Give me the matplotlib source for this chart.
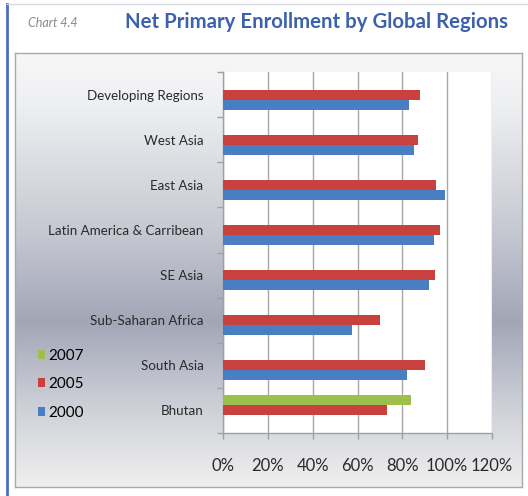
import numpy as np
import matplotlib.pyplot as plt
from matplotlib.colors import LinearSegmentedColormap
from matplotlib.lines import Line2D

# data
regions = ['Developing Regions', 'West Asia', 'East Asia', 'Latin America & Carribean',
           'SE Asia', 'Sub-Saharan Africa', 'South Asia', 'Bhutan']
v2000 = [0.83, 0.85, 0.99, 0.94, 0.92, 0.575, 0.82, None]
v2005 = [0.88, 0.87, 0.95, 0.97, 0.945, 0.70, 0.90, 0.73]
v2007 = [None, None, None, None, None, None, None, 0.84]
xticks = [0, 0.2, 0.4, 0.6, 0.8, 1.0, 1.2]
xticklabels = ['0%', '20%', '40%', '60%', '80%', '100%', '120%']

c2000 = '#4a7ec2'
c2005 = '#c9413f'
c2007 = '#9cc04a'

W, H = 528, 496
fig = plt.figure(figsize=(W / 100, H / 100), dpi=100)
fig.patch.set_facecolor('white')

def fx(px):
    return px / W

def fy(py):
    return 1 - py / H

# page frame
fig.add_artist(Line2D([fx(7), fx(7)], [0, fy(4)], color='#4a6fc0', lw=2))
fig.add_artist(Line2D([fx(7), 1], [fy(4), fy(4)], color='#d8dbe3', lw=1))

fig.text(fx(28), fy(23), 'Chart 4.4', fontsize=9, style='italic', color='#8a8a8a',
         family='Lato', va='center')
fig.text(fx(125), fy(22), 'Net Primary Enrollment by Global Regions', fontsize=14.7,
         fontweight='bold', color='#3d62ad', family='Lato', va='center')

# chart area with gradient background
bg = fig.add_axes([fx(15), fy(487), fx(522) - fx(15), fy(53) - fy(487)], zorder=0)
cmap = LinearSegmentedColormap.from_list('bg', [
    (0.0, '#f7f7f8'), (0.12, '#eeeff1'), (0.4, '#c8cad3'), (0.62, '#a2a6b7'),
    (0.82, '#cfd1d8'), (1.0, '#efefef')])
grad = np.linspace(0, 1, 256).reshape(-1, 1)
bg.imshow(grad, aspect='auto', cmap=cmap, extent=[0, 1, 0, 1], origin='upper')
bg.set_xlim(0, 1)
bg.set_ylim(0, 1)
bg.set_xticks([])
bg.set_yticks([])
for s in bg.spines.values():
    s.set_color('#a9a9a9')
    s.set_linewidth(1)

# plot area
ax = fig.add_axes([fx(223), fy(433), fx(492) - fx(223), fy(72) - fy(433)], zorder=1)
ax.set_facecolor('white')

y = np.arange(len(regions))
bh = 0.222
series = [(v2007, c2007, '2007', -bh), (v2005, c2005, '2005', 0.0), (v2000, c2000, '2000', bh)]
for vals, col, lab, off in series:
    idx = [i for i, v in enumerate(vals) if v is not None]
    ax.barh(y[idx] + off, [vals[i] for i in idx], height=bh, color=col,
            edgecolor='none', label=lab, zorder=3)

ax.set_xlim(0, 1.2)
ax.set_ylim(len(regions) - 0.5, -0.5)
ax.set_xticks(xticks)
ax.set_xticklabels(xticklabels, fontsize=12, color='#2a2a2a', family='Lato')
ax.set_yticks(y)
ax.set_yticklabels(regions, fontsize=9.6, color='#2a2a2a', family='Lato')
ax.tick_params(axis='y', length=0, pad=14)
ax.set_yticks(np.arange(len(regions) + 1) - 0.5, minor=True)
ax.tick_params(axis='y', which='minor', length=4, color='#a0a0a0', width=1)
ax.tick_params(axis='x', length=4, color='#a0a0a0', width=1, pad=14)
ax.grid(axis='x', color='#a8a8a8', lw=1, zorder=1)
for k in ['top', 'right']:
    ax.spines[k].set_visible(False)
for k in ['left', 'bottom']:
    ax.spines[k].set_color('#a0a0a0')
    ax.spines[k].set_linewidth(1)

h, l = ax.get_legend_handles_labels()
fig.legend(h, l, loc='upper left', bbox_to_anchor=(fx(24), fy(335)), frameon=False,
           handlelength=0.5, handleheight=0.5, handletextpad=0.2,
           labelspacing=0.95, prop={'family': 'Lato', 'size': 11})

fig.savefig('out.png', dpi=100)
